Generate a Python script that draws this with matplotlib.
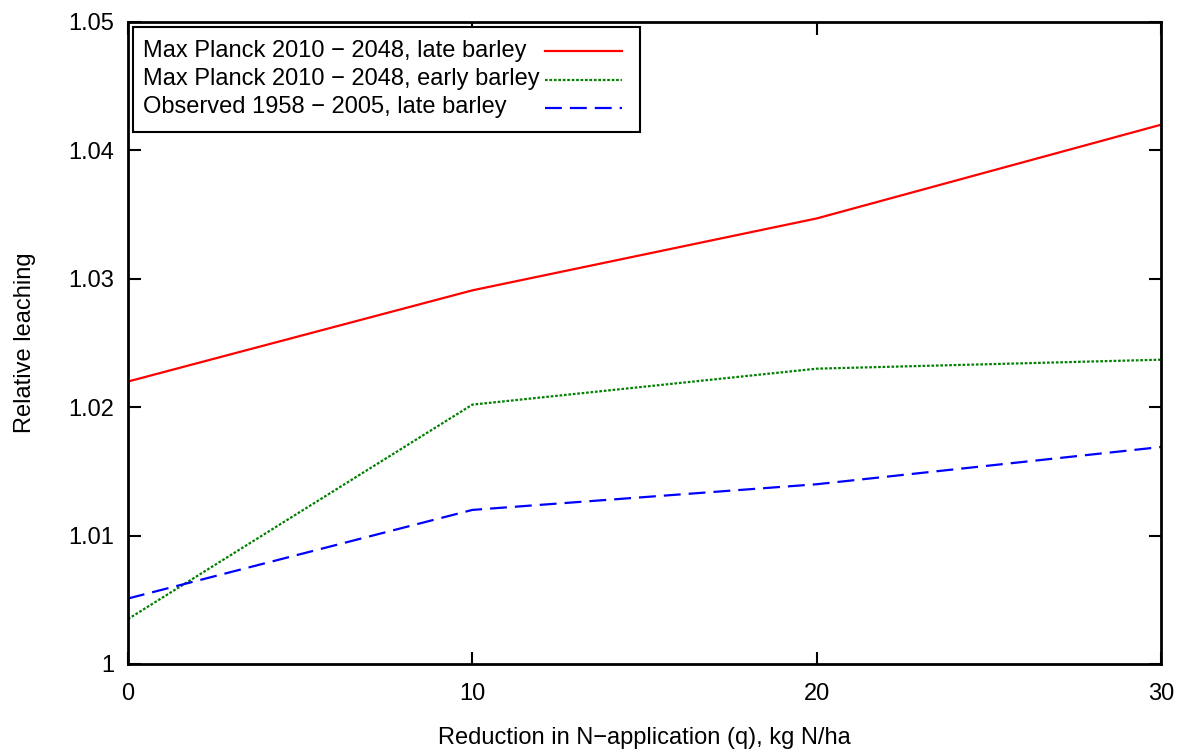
import matplotlib
matplotlib.use("Agg")
import matplotlib.pyplot as plt
from matplotlib.lines import Line2D
from matplotlib.patches import Rectangle
from matplotlib.ticker import FixedLocator, FuncFormatter

plt.rcParams['font.family'] = ['Liberation Sans', 'DejaVu Sans']

x = [0, 10, 20, 30]
late_mp = [1.0220, 1.0291, 1.0347, 1.0420]
early_mp = [1.0035, 1.0202, 1.0230, 1.0237]
late_obs = [1.0051, 1.0120, 1.0140, 1.0169]
labels = ["Max Planck 2010 \u2212 2048, late barley",
          "Max Planck 2010 \u2212 2048, early barley",
          "Observed 1958 \u2212 2005, late barley"]
xticks = [0, 10, 20, 30]
yticks = [1.0, 1.01, 1.02, 1.03, 1.04, 1.05]

FS = 17
W, H = 1182, 749
L, R, T, B = 128, 1161, 22, 664
fig = plt.figure(figsize=(W/100, H/100), dpi=100)
ax = fig.add_axes([L/W, (H-B)/H, (R-L)/W, (B-T)/H])

styles = [dict(color='#ff0000', lw=1.6, ls='-'),
          dict(color='#008000', lw=1.6, ls=(0, (1.2, 0.8))),
          dict(color='#0000ff', lw=1.6, ls=(0, (7.6, 3.6)))]
for ys, st in zip([late_mp, early_mp, late_obs], styles):
    ax.plot(x, ys, **st)

ax.set_xlim(0, 30)
ax.set_ylim(1.0, 1.05)
ax.xaxis.set_major_locator(FixedLocator(xticks))
ax.yaxis.set_major_locator(FixedLocator(yticks))
ax.yaxis.set_major_formatter(FuncFormatter(lambda v, p: ('%.2f' % v).rstrip('0').rstrip('.')))
ax.tick_params(direction='in', length=9, width=1.5, top=True, right=True,
               labelsize=FS)
ax.tick_params(axis='x', pad=13.5)
ax.tick_params(axis='y', pad=10)
for s in ax.spines.values():
    s.set_linewidth(2)

ax.set_xlabel("Reduction in N\u2212application (q), kg N/ha", fontsize=FS, labelpad=16)
ax.set_ylabel("Relative leaching", fontsize=FS, labelpad=23)

# gnuplot-style legend: box, left-aligned text, sample on the right
def ax_x(px):
    return (px - L) / (R - L)

def ax_y(py):
    return (B - py) / (B - T)

ax.add_patch(Rectangle((ax_x(133), ax_y(132)), ax_x(640) - ax_x(133), ax_y(27) - ax_y(132),
                       transform=ax.transAxes, fill=True, facecolor='white',
                       edgecolor='black', lw=1.5, zorder=5))
baselines = [57, 85, 113]
line_y = [51, 80, 108]
for lab, st, by, ly in zip(labels, styles, baselines, line_y):
    ax.text(ax_x(143), ax_y(by), lab, transform=ax.transAxes, fontsize=FS,
            va='baseline', ha='left', zorder=6)
    ax.add_line(Line2D([ax_x(545), ax_x(622)], [ax_y(ly), ax_y(ly)],
                       transform=ax.transAxes, zorder=7, **st))

fig.savefig("out.png", dpi=100)
